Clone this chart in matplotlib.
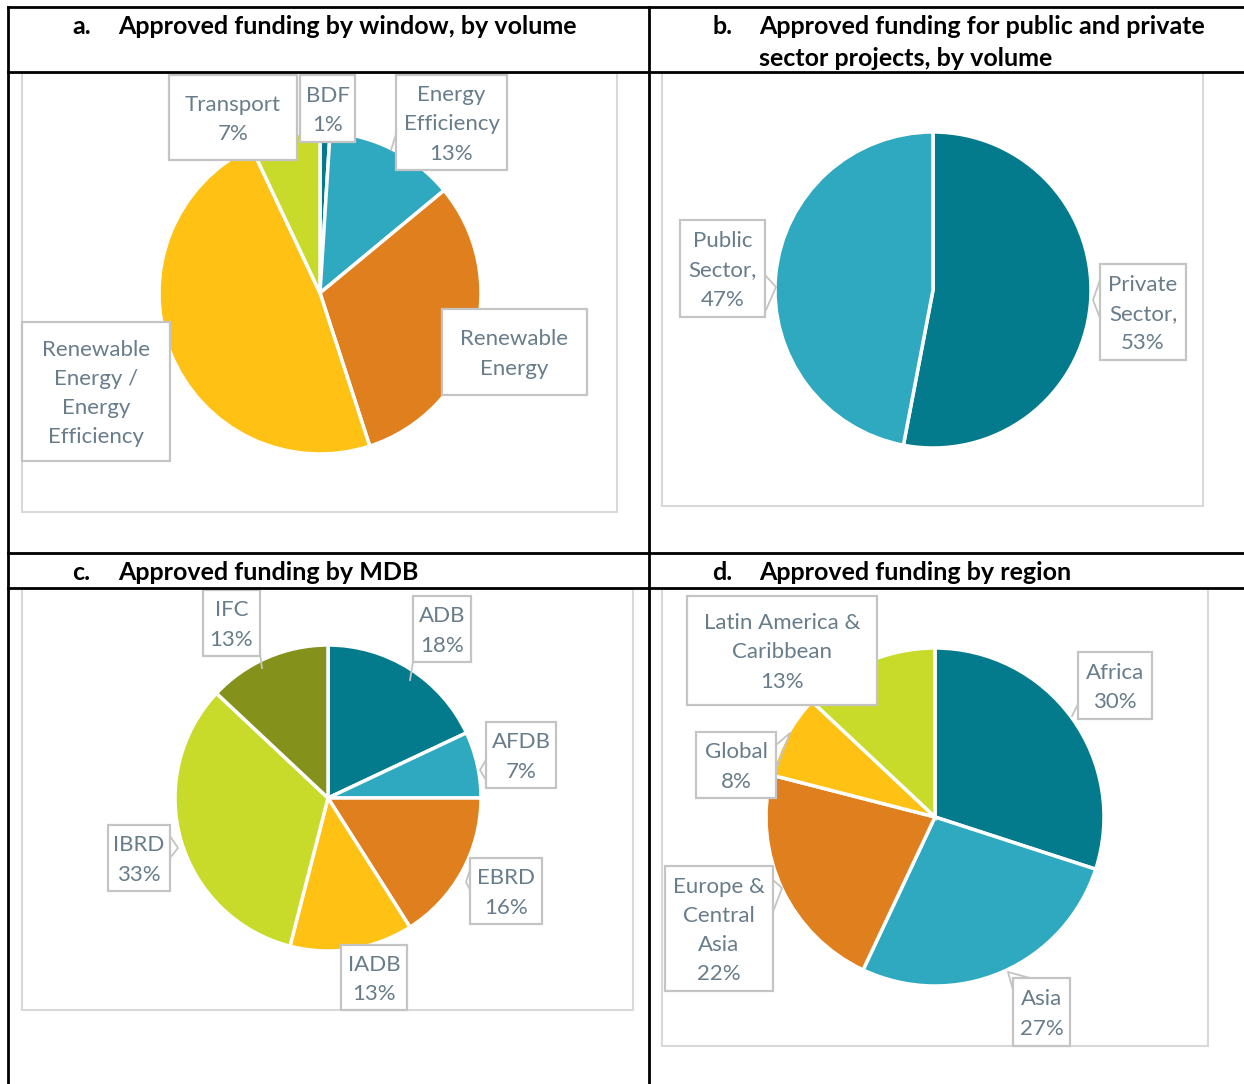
import matplotlib.pyplot as plt
from matplotlib.patches import Rectangle

plt.rcParams['font.family'] = ['Lato', 'DejaVu Sans']

# ---- data ----
window_labels = ['BDF', 'Energy\nEfficiency', 'Renewable\nEnergy',
                 'Renewable\nEnergy /\nEnergy\nEfficiency', 'Transport']
window_values = [1, 13, 31, 48, 7]
window_show_pct = [True, True, False, False, True]

sector_labels = ['Private\nSector,', 'Public\nSector,']
sector_values = [53, 47]

mdb_labels = ['ADB', 'AFDB', 'EBRD', 'IADB', 'IBRD', 'IFC']
mdb_values = [18, 7, 16, 13, 33, 13]

region_labels = ['Africa', 'Asia', 'Europe &\nCentral\nAsia', 'Global',
                 'Latin America &\nCaribbean']
region_values = [30, 27, 22, 8, 13]

titles = ['Approved funding by window, by volume',
          'Approved funding for public and private\nsector projects, by volume',
          'Approved funding by MDB',
          'Approved funding by region']
letters = ['a.', 'b.', 'c.', 'd.']

DTEAL = '#037B8C'
LTEAL = '#2EA9C0'
ORANGE = '#E07F1E'
YELLOW = '#FFC114'
LIME = '#C9DB2A'
OLIVE = '#84921C'

window_colors = [DTEAL, LTEAL, ORANGE, YELLOW, LIME]
sector_colors = [DTEAL, LTEAL]
mdb_colors = [DTEAL, LTEAL, ORANGE, YELLOW, LIME, OLIVE]
region_colors = [DTEAL, LTEAL, ORANGE, YELLOW, LIME]

TXT = '#687C8A'
BOXC = '#C4C4C4'

W, H = 1244, 1084
fig = plt.figure(figsize=(W / 100, H / 100), dpi=100)
ax = fig.add_axes([0, 0, 1, 1])


def label_box(x0, y0, x1, y1, text, leader=None):
    ax.add_patch(Rectangle((x0, y0), x1 - x0, y1 - y0, fc='white',
                           ec=BOXC, lw=1.6, zorder=5))
    lines = text.split('\n')
    step = 29.3
    cy = (y0 + y1) / 2 + 2
    for i, ln in enumerate(lines):
        y = cy + (i - (len(lines) - 1) / 2) * step
        ax.text((x0 + x1) / 2, y, ln, ha='center', va='center',
                fontsize=16, color=TXT, zorder=6)
    if leader is not None:
        xs, ys = zip(*leader)
        ax.plot(xs, ys, color=BOXC, lw=1.3, zorder=4)


def pie(values, colors, cx, cy, r):
    ax.pie(values, colors=colors, center=(cx, cy), radius=r,
           startangle=270, counterclock=True, frame=True,
           wedgeprops=dict(edgecolor='white', linewidth=2.5))


def fmt(lbl, v, show=True):
    return f'{lbl}\n{v}%' if show else lbl


# chart areas
for (x0, y0, x1, y1) in [(22, 73, 617, 512), (662, 73, 1203, 506),
                         (22, 589, 633, 1010), (662, 589, 1208, 1046)]:
    ax.add_patch(Rectangle((x0, y0), x1 - x0, y1 - y0, fc='white',
                           ec='#D9D9D9', lw=1.5, zorder=1))

# a. window
pie(window_values, window_colors, 320, 293, 161)
wl = [fmt(l, v, s) for l, v, s in zip(window_labels, window_values, window_show_pct)]
label_box(300, 75, 355, 142, wl[0])
label_box(396, 75, 507, 170, wl[1], [(398, 128), (391, 150)])
label_box(442, 309, 587, 395, wl[2])
label_box(22, 322, 170, 461, wl[3])
label_box(169, 75, 297, 160, wl[4])

# b. sector
pie(sector_values, sector_colors, 933, 290, 158)
label_box(1100, 264, 1186, 360, fmt(sector_labels[0], sector_values[0]),
          [(1100, 280), (1093, 300), (1100, 318)])
label_box(680, 220, 765, 317, fmt(sector_labels[1], sector_values[1]),
          [(765, 275), (776, 287), (766, 310)])

# c. MDB
pie(mdb_values, mdb_colors, 328, 798, 153)
ml = [fmt(l, v) for l, v in zip(mdb_labels, mdb_values)]
label_box(413, 596, 471, 662, ml[0], [(415, 650), (410, 680)])
label_box(486, 722, 556, 788, ml[1], [(486, 760), (480, 770), (486, 780)])
label_box(470, 858, 542, 924, ml[2], [(470, 870), (466, 882), (470, 890)])
label_box(341, 945, 407, 1010, ml[3])
label_box(108, 825, 170, 891, ml[4], [(170, 836), (178, 848), (170, 858)])
label_box(203, 590, 260, 656, ml[5], [(258, 640), (262, 668)])

# d. region
pie(region_values, region_colors, 935, 817, 169)
rl = [fmt(l, v) for l, v in zip(region_labels, region_values)]
label_box(1078, 652, 1152, 719, rl[0], [(1080, 700), (1072, 716)])
label_box(1013, 978, 1070, 1046, rl[1], [(1030, 978), (1008, 972), (1013, 990)])
label_box(665, 866, 773, 991, rl[2], [(773, 880), (782, 888), (773, 912)])
label_box(696, 732, 776, 798, rl[3], [(776, 745), (790, 733), (776, 770)])
label_box(687, 596, 877, 705, rl[4])

# table grid
for y in [7, 72, 553, 588]:
    ax.plot([8, W], [y, y], color='black', lw=2, zorder=10)
for x in [8, 649]:
    ax.plot([x, x], [7, H], color='black', lw=2, zorder=10)

# titles
title_pos = [(72, 118, 26), (712, 759, 26), (72, 118, 573), (712, 759, 573)]
for (lx, tx, ty), letter, title in zip(title_pos, letters, titles):
    ax.text(lx, ty, letter, ha='left', va='center', fontsize=18,
            fontweight='bold', color='black')
    for i, ln in enumerate(title.split('\n')):
        ax.text(tx, ty + i * 33, ln, ha='left', va='center', fontsize=18,
                fontweight='bold', color='black')

ax.set_xlim(0, W)
ax.set_ylim(H, 0)
ax.set_aspect('auto')
ax.axis('off')

fig.savefig('out.png', dpi=100)
